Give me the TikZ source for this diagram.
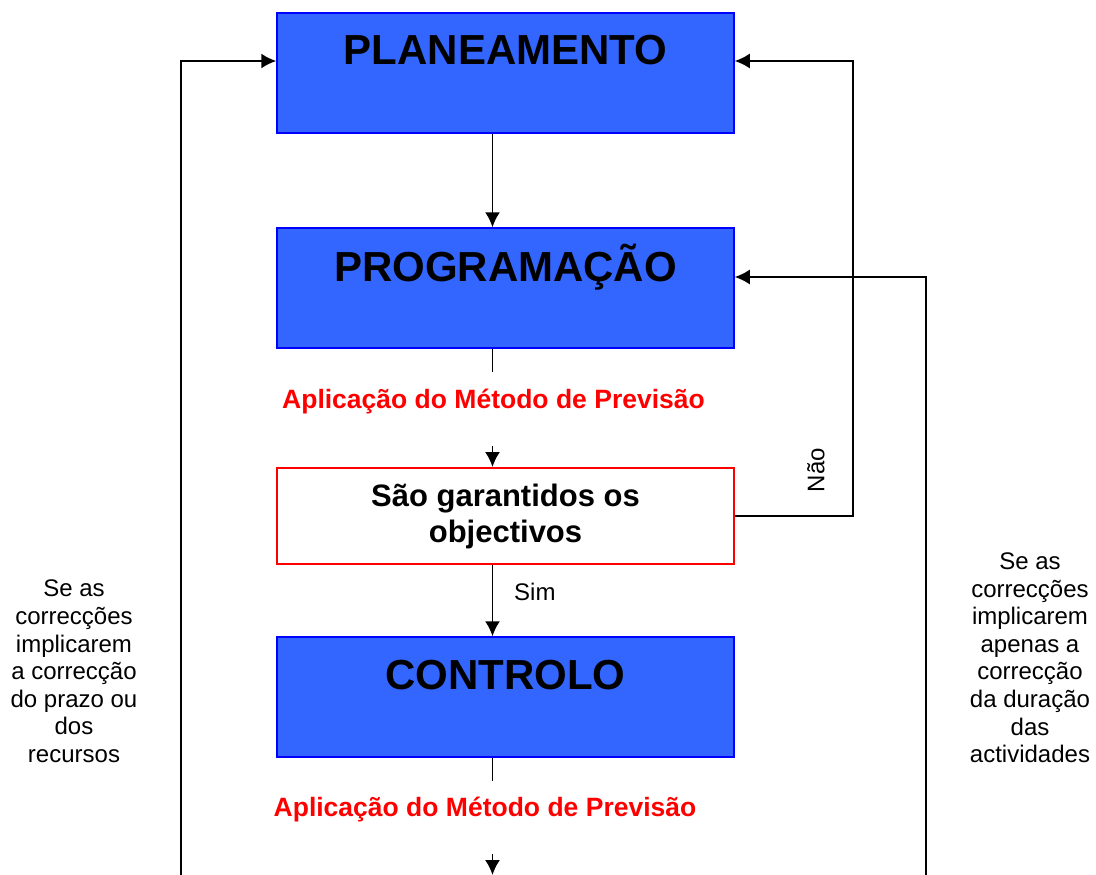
\documentclass[tikz,border=0pt]{standalone}
\usepackage{fontspec}
\setmainfont{Liberation Sans}
\usetikzlibrary{arrows.meta}
\definecolor{boxblue}{RGB}{51,102,255}
\definecolor{edgeblue}{RGB}{0,0,255}
\begin{document}
\begin{tikzpicture}[x=1pt,y=-1pt,
  bluebox/.style={draw=edgeblue,fill=boxblue,line width=1.5pt,minimum width=457pt,minimum height=120pt,inner sep=0pt},
  decbox/.style={draw=red,fill=white,line width=2pt,minimum width=457pt,minimum height=96pt,inner sep=0pt,align=center,font=\fontsize{31}{36}\selectfont\bfseries},
  boxtitle/.style={font=\fontsize{42}{48}\selectfont\bfseries,anchor=base,inner sep=0pt},
  redlbl/.style={text=red,font=\fontsize{26.5}{30}\selectfont\bfseries,anchor=base,inner sep=0pt},
  side/.style={font=\fontsize{24}{27.6}\selectfont,align=center,inner sep=0pt},
  small/.style={font=\fontsize{24}{27.6}\selectfont,inner sep=0pt},
  conn/.style={line width=1.8pt},
  arr/.style={conn,-{Latex[length=15pt,width=15pt]}},
]
\useasboundingbox[fill=white] (0,0) rectangle (1096,875);

% boxes
\node[bluebox] (plan) at (505.5,73) {};
\node[bluebox] (prog) at (505.5,288) {};
\node[decbox] (dec) at (505.5,516) {São garantidos os\\objectivos};
\node[bluebox] (ctrl) at (505.5,697) {};

% box titles
\node[boxtitle] (plant) at (505.5,65) {PLANEAMENTO};
\node[boxtitle] (progt) at (505.5,281) {PROGRAMAÇÃO};
\node[boxtitle] (ctrlt) at (505.5,689) {CONTROLO};

% red labels
\node[redlbl] (lbl1) at (493.5,408) {Aplicação do Método de Previsão};
\node[redlbl] (lbl2) at (485,816) {Aplicação do Método de Previsão};

% small labels
\node[small,anchor=base west] (sim) at (514,600) {Sim};
\node[small,rotate=90] (nao) at (816,470) {Não};

% side texts
\node[side] (lefttxt) at (74,671.5) {Se as\\correcções\\implicarem\\a correcção\\do prazo ou\\dos\\recursos};
\node[side] (righttxt) at (1030,657.8) {Se as\\correcções\\implicarem\\apenas a\\correcção\\da duração\\das\\actividades};

% coordinates
\coordinate (ax) at (492.5,0);
\coordinate (s1) at (492.5,372);
\coordinate (a1) at (492.5,446);
\coordinate (s2) at (492.5,781);
\coordinate (a2) at (492.5,854);
\coordinate (a2e) at (492.5,875);
\coordinate (nr) at (853,61);
\coordinate (lb) at (181,875);
\coordinate (lt) at (181,61);
\coordinate (rb) at (926,875);
\coordinate (rt) at (926,277);

% connectors
\draw[arr] (plan.south -| ax) -- (prog.north -| ax);
\draw[conn] (prog.south -| ax) -- (s1);
\draw[arr] (a1) -- (dec.north -| ax);
\draw[arr] (dec.south -| ax) -- (ctrl.north -| ax);
\draw[conn] (ctrl.south -| ax) -- (s2);
\draw[arr] (a2) -- (a2e);
\draw[arr] (dec.east) -| (nr) -- (plan.east |- nr);
\draw[arr] (lb) -- (lt) -- (plan.west |- lt);
\draw[arr] (rb) -- (rt) -- (prog.east |- rt);
\end{tikzpicture}
\end{document}
